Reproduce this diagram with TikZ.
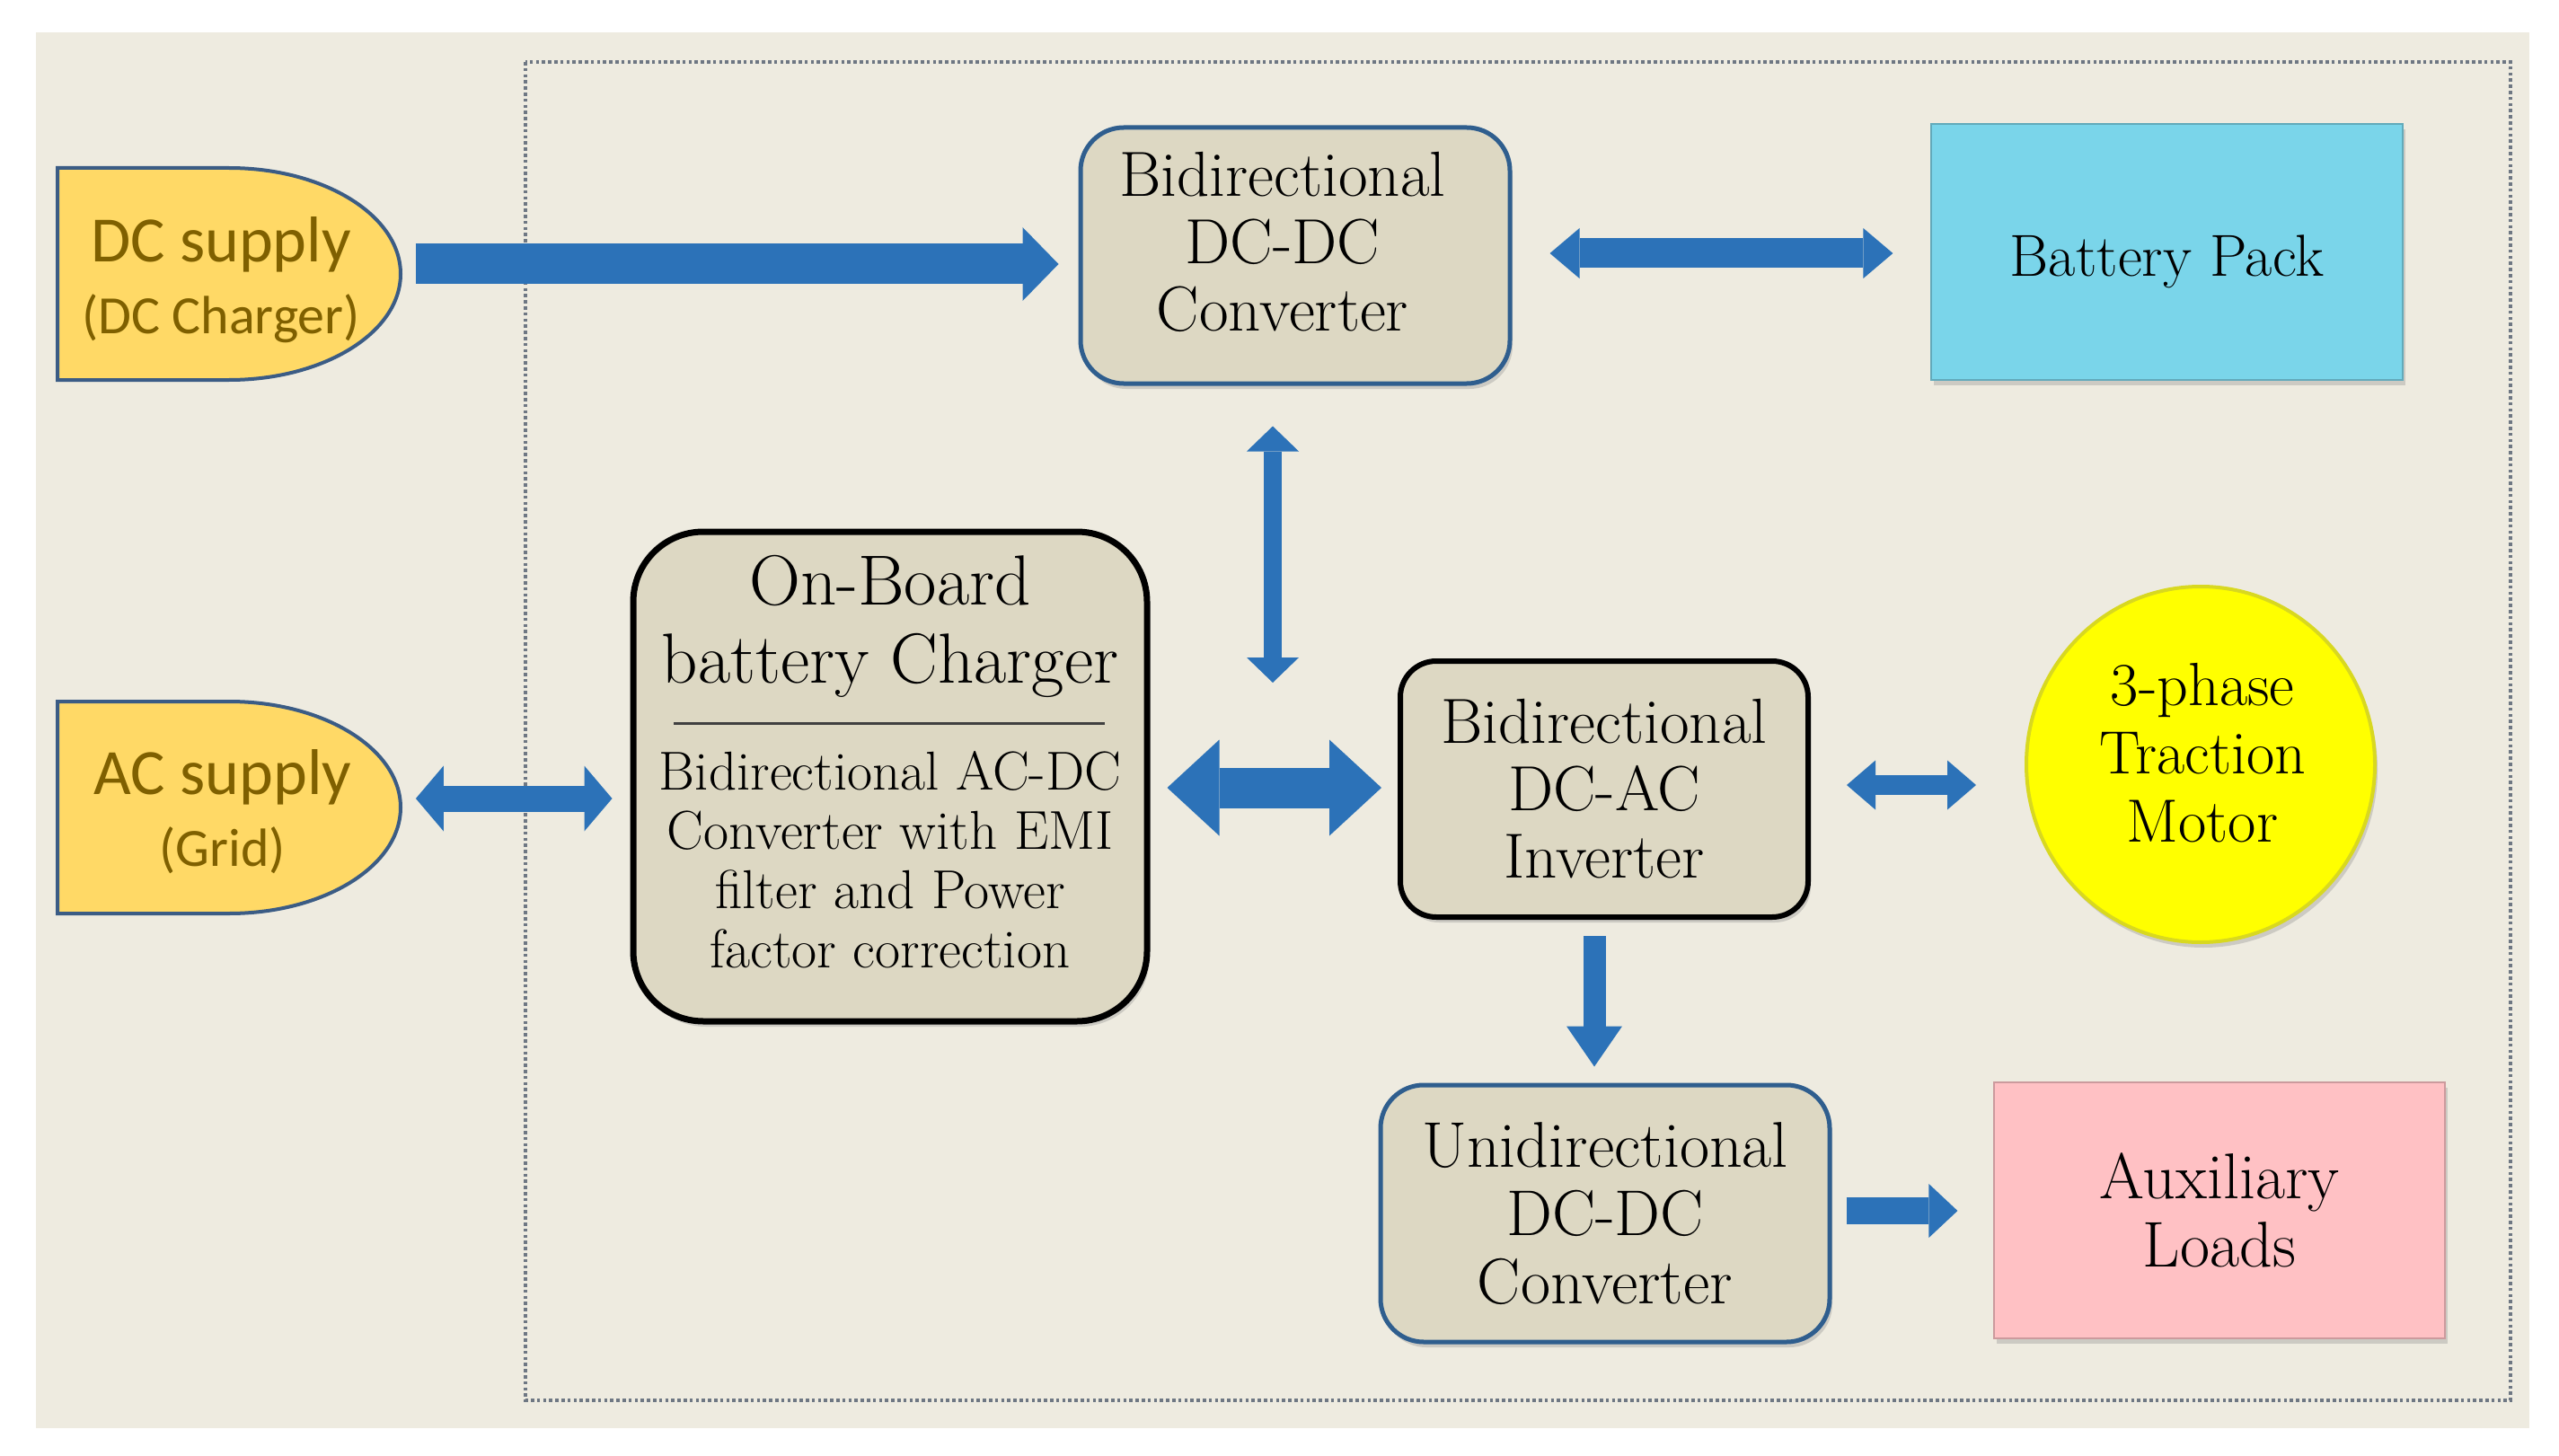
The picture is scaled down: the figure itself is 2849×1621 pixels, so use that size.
\documentclass[tikz,border=0pt]{standalone}
\usepackage{fontspec}
\newfontfamily\carlito{Carlito}
\usetikzlibrary{arrows.meta,calc,shadows,shapes.geometric}
\definecolor{bgc}{HTML}{EEEBE0}
\definecolor{framec}{HTML}{6E7783}
\definecolor{supfill}{HTML}{FFD966}
\definecolor{supline}{HTML}{3B5C85}
\definecolor{suptext}{HTML}{7F6000}
\definecolor{tan}{HTML}{DDD8C3}
\definecolor{blueline}{HTML}{2F5E8E}
\definecolor{arrc}{HTML}{2C72B8}
\definecolor{batc}{HTML}{7AD5EA}
\definecolor{auxc}{HTML}{FFC1C4}
\definecolor{motc}{HTML}{FFFF00}
\definecolor{motline}{HTML}{D8D820}
\begin{document}
\begin{tikzpicture}[x=0.5pt,y=-0.5pt,
  frame/.style={draw=framec, line width=2pt, dash pattern=on 1.8pt off 1.6pt},
  supplyshape/.style={fill=supfill, draw=supline, line width=2pt},
  supplytext/.style={align=center, text=suptext, minimum width=190.5pt, minimum height=118pt, inner sep=0pt},
  shad/.style={drop shadow={shadow xshift=1.5pt, shadow yshift=-3pt, opacity=0.3}},
  boxtext/.style={align=center, inner sep=0pt},
  bluebox/.style={shad, rounded corners=24pt, fill=tan, draw=blueline, line width=2.5pt, align=center, inner sep=0pt},
  blackbox/.style={shad, fill=tan, draw=black, align=center, inner sep=0pt},
  flatbox/.style={shad, align=center, inner sep=0pt},
  arr/.style={draw=arrc, line width=#1}
]
\useasboundingbox (0,0) rectangle (2849,1621);
\fill[white] (0,0) rectangle (2849,1621);
\fill[bgc] (40,36) rectangle (2816,1590);
\draw[frame] (585,69) rectangle (2795,1559);

% supplies
\path[supplyshape] (64,187) -- (255,187) arc[start angle=90,end angle=-90,x radius=95.5pt,y radius=59pt] -- (64,423) -- cycle;
\node[supplytext, font=\carlito\fontsize{36}{40}\selectfont] (dc) at (246,312) {DC supply\\{\fontsize{30}{40}\selectfont (DC Charger)}};
\path[supplyshape] (64,781) -- (255,781) arc[start angle=90,end angle=-90,x radius=95.5pt,y radius=59pt] -- (64,1017) -- cycle;
\node[supplytext, font=\carlito\fontsize{36}{40}\selectfont] (ac) at (248,904) {AC supply\\{\fontsize{30}{40}\selectfont (Grid)}};

% boxes
\node[bluebox, minimum width=239pt, minimum height=142.5pt] (dcdc) at (1442,284.5) {};
\node[boxtext, font=\fontsize{35.5}{37.5}\selectfont] (dcdctext) at ($(dcdc.center)+(-14,-15)$) {Bidirectional\\DC-DC\\Converter};
\node[flatbox, fill=batc, draw=batc!80!black, line width=0.6pt, minimum width=262.5pt, minimum height=142.5pt] (bat) at (2412.5,280.5) {};
\node[boxtext, font=\fontsize{33}{37.5}\selectfont] (battext) at ($(bat.center)+(0,11)$) {Battery Pack};
\node[blackbox, rounded corners=39pt, line width=3.5pt, minimum width=286pt, minimum height=272.5pt] (chg) at (991,864.5) {};
\node[boxtext, font=\fontsize{39.5}{43.5}\selectfont] (chgtitle) at (991,697) {On-Board\\battery Charger};
\node[boxtext, font=\fontsize{30.5}{33}\selectfont] (chgbody) at (991,957) {Bidirectional AC-DC\\Converter with EMI\\filter and Power\\factor correction};
\draw[line width=1.5pt, draw=black!75] (750,805) -- (1230,805);
\node[blackbox, rounded corners=20pt, line width=3pt, minimum width=227pt, minimum height=142.5pt, font=\fontsize{35.5}{37.5}\selectfont] (inv) at (1786,878.5) {Bidirectional\\DC-AC\\Inverter};
\node[shad, ellipse, fill=motc, draw=motline, line width=2pt, minimum width=194pt, minimum height=198pt] (mot) at (2450,851) {};
\node[boxtext, font=\fontsize{34}{38}\selectfont] (mottext) at ($(mot.center)+(2,-13)$) {3-phase\\Traction\\Motor};
\node[bluebox, minimum width=250pt, minimum height=143pt, font=\fontsize{36}{38}\selectfont] (uni) at (1787,1351) {Unidirectional\\DC-DC\\Converter};
\node[flatbox, fill=auxc, draw=auxc!80!black, line width=0.6pt, minimum width=251pt, minimum height=142.5pt, font=\fontsize{36}{38}\selectfont] (aux) at (2471,1347.5) {Auxiliary\\Loads};

% arrows
\coordinate (vbot) at (1417,760);
\draw[arr=22.5pt, -{Triangle[length=20pt,width=41pt,line width=0pt]}] ($(dc.east)+(26,-18)$) -- ($(dcdc.west)+(-22,9.5)$);
\draw[arr=16.5pt, {Triangle[length=16.5pt,width=28pt,line width=0pt]}-{Triangle[length=16.5pt,width=28pt,line width=0pt]}] ($(dcdc.east)+(42,-2.5)$) -- ($(bat.west)+(-42,1.5)$);
\draw[arr=10pt, {Triangle[length=14pt,width=29pt,line width=0pt]}-{Triangle[length=14pt,width=29pt,line width=0pt]}] ($(dcdc.south)+(-25,45)$) -- (vbot);
\draw[arr=14.5pt, {Triangle[length=15.5pt,width=36.5pt,line width=0pt]}-{Triangle[length=15.5pt,width=36.5pt,line width=0pt]}] ($(ac.east)+(24,-15)$) -- ($(chg.west)+(-20,24.5)$);
\draw[arr=22.5pt, {Triangle[length=29pt,width=53.5pt,line width=0pt]}-{Triangle[length=29pt,width=53.5pt,line width=0pt]}] ($(chg.east)+(19,12.5)$) -- ($(inv.west)+(-18,-1.5)$);
\draw[arr=11pt, {Triangle[length=16pt,width=27.5pt,line width=0pt]}-{Triangle[length=16pt,width=27.5pt,line width=0pt]}] ($(inv.east)+(40,-4.5)$) -- ($(mot.west)+(-54,23)$);
\draw[arr=12.5pt, -{Triangle[length=22.5pt,width=31pt,line width=0pt]}] ($(inv.south)+(-11,18)$) -- ($(uni.north)+(-12,-18)$);
\draw[arr=15pt, -{Triangle[length=16pt,width=30pt,line width=0pt]}] ($(uni.east)+(16,-3)$) -- ($(aux.west)+(-40,0.5)$);
\end{tikzpicture}
\end{document}
